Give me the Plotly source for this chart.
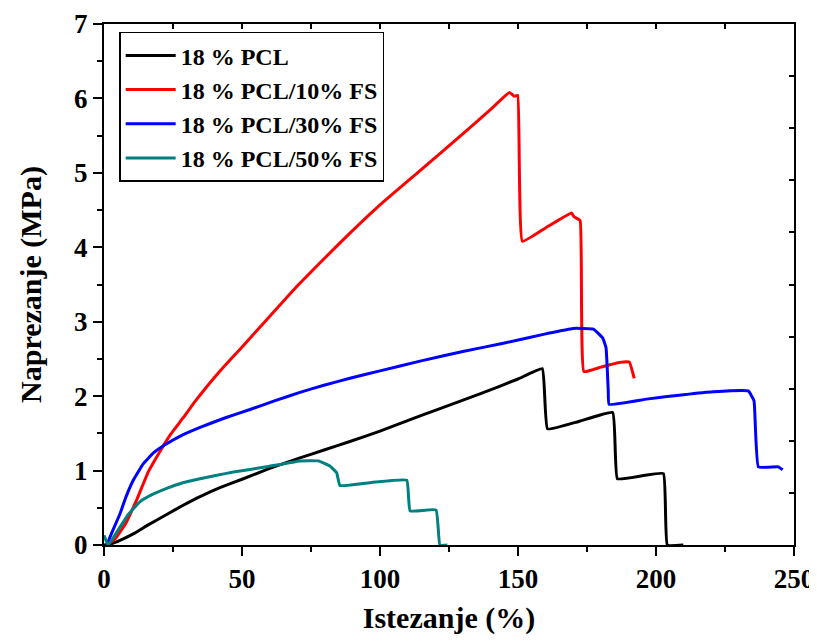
import plotly.graph_objects as go

# ---- data ----
pcl_x = [0, 2, 5, 10.6, 16, 22.7, 28, 34.8, 42, 50.5, 60, 71, 80, 89.1, 100, 110, 120, 136.2, 150,
         158.8, 160.7, 172, 184.3, 186, 195, 202.7, 204.1, 209.9]
pcl_y = [0, 0.01, 0.05, 0.15, 0.27, 0.41, 0.52, 0.65, 0.77, 0.89, 1.03, 1.17, 1.28, 1.39, 1.53, 1.67, 1.81, 2.03, 2.23,
         2.37, 1.56, 1.66, 1.78, 0.89, 0.93, 0.96, 0, 0]

fs10_x = [1, 4, 8, 12, 16, 20, 24, 28.7, 33, 38.4, 44, 49.3, 60, 70, 85.5, 100, 114.5, 130.2, 140, 146.9,
          148.6, 149.9, 151.6, 160, 169.4, 170.3, 172.5, 173.9, 180, 186.3, 190.3, 192.1]
fs10_y = [0, 0.08, 0.3, 0.62, 0.98, 1.24, 1.48, 1.71, 1.93, 2.18, 2.42, 2.63, 3.07, 3.48, 4.06, 4.57, 5.03, 5.53, 5.85, 6.08,
          6.03, 6.04, 4.08, 4.26, 4.46, 4.41, 4.36, 2.33, 2.39, 2.45, 2.46, 2.24]

fs30_x = [1, 3, 5.8, 8, 10.6, 14.2, 18, 22.7, 28, 34.8, 44, 52.9, 62, 71, 80, 89.1, 100, 114.5, 130, 144.7,
          160.4, 170, 177.3, 180.7, 181.9, 182.7, 183, 196.6, 210, 220.8, 233.4, 235.5, 237.1, 244.3, 245.9]
fs30_y = [0, 0.18, 0.42, 0.65, 0.87, 1.09, 1.24, 1.36, 1.47, 1.58, 1.71, 1.82, 1.94, 2.05, 2.15, 2.24, 2.34, 2.47, 2.6, 2.71,
          2.84, 2.91, 2.9, 2.78, 2.65, 2.07, 1.89, 1.96, 2.02, 2.06, 2.07, 1.94, 1.05, 1.05, 1.01]

fs50_x = [0, 1.5, 5.8, 9, 13, 17, 22.7, 28, 34.8, 40, 46.9, 58.9, 71, 77.7, 81.9, 84.3, 85.5, 97, 109.7,
          110.9, 120.3, 121.7, 124.4]
fs50_y = [0.13, 0, 0.24, 0.42, 0.58, 0.67, 0.76, 0.83, 0.89, 0.93, 0.98, 1.05, 1.13, 1.13, 1.06, 0.97, 0.80, 0.84, 0.87,
          0.46, 0.47, 0, 0]

names = ["18 % PCL", "18 % PCL/10% FS", "18 % PCL/30% FS", "18 % PCL/50% FS"]
colors = ["#000000", "#FF0000", "#0000FF", "#008080"]
x_ticks = [0, 50, 100, 150, 200, 250]
y_ticks = [0, 1, 2, 3, 4, 5, 6, 7]

FONT = "Liberation Serif"

fig = go.Figure()
for xs, ys, nm, c in zip([pcl_x, fs10_x, fs30_x, fs50_x], [pcl_y, fs10_y, fs30_y, fs50_y], names, colors):
    fig.add_trace(go.Scatter(x=xs, y=ys, mode="lines", name=nm,
                             line=dict(color=c, width=3, shape="spline", smoothing=0.3)))

# helper trace for the mirrored (inward-tick) axes
fig.add_trace(go.Scatter(x=[None], y=[None], xaxis="x2", yaxis="y2", showlegend=False, hoverinfo="skip"))

fig.update_layout(
    width=809, height=627,
    margin=dict(l=96, r=23, t=16, b=90, autoexpand=False),
    paper_bgcolor="white", plot_bgcolor="white",
    font=dict(family=FONT, color="black"),
    showlegend=True,
    legend=dict(x=0.022, y=0.985, xanchor="left", yanchor="top",
                bgcolor="white", bordercolor="black", borderwidth=1.5,
                font=dict(family=FONT, size=24, color="black", weight="bold"),
                tracegroupgap=0, itemwidth=50),
    xaxis=dict(range=[0, 250], tickvals=x_ticks, ticktext=[str(v) for v in x_ticks],
               showgrid=False, zeroline=False, showline=True, linecolor="black", linewidth=2,
               mirror=True, ticks="outside", ticklen=9, tickwidth=1.5, tickcolor="black",
               ticklabeloverflow="allow",
               minor=dict(dtick=25, tick0=0, ticks="outside", ticklen=5, tickwidth=1.5, tickcolor="black", showgrid=False),
               tickfont=dict(family=FONT, size=27, color="black", weight="bold"),
               title=dict(text="Istezanje (%)", standoff=14,
                          font=dict(family=FONT, size=30, color="black", weight="bold"))),
    yaxis=dict(range=[0, 7], tickvals=y_ticks, ticktext=[str(v) for v in y_ticks],
               showgrid=False, zeroline=False, showline=True, linecolor="black", linewidth=2,
               mirror=True, ticks="outside", ticklen=9, tickwidth=1.5, tickcolor="black",
               ticklabeloverflow="allow",
               minor=dict(dtick=0.5, tick0=0, ticks="outside", ticklen=5, tickwidth=1.5, tickcolor="black", showgrid=False),
               tickfont=dict(family=FONT, size=27, color="black", weight="bold"),
               title=dict(text="Naprezanje (MPa)", standoff=24,
                          font=dict(family=FONT, size=30, color="black", weight="bold"))),
    xaxis2=dict(overlaying="x", side="top", range=[0, 250], dtick=25, tick0=0,
                showticklabels=False, showgrid=False, zeroline=False, showline=False,
                ticks="inside", ticklen=5, tickwidth=1.5, tickcolor="black"),
    yaxis2=dict(overlaying="y", side="right", range=[0, 7], dtick=0.7, tick0=0,
                showticklabels=False, showgrid=False, zeroline=False, showline=False,
                ticks="inside", ticklen=5, tickwidth=1.5, tickcolor="black"),
)

fig.write_html("out.html")
